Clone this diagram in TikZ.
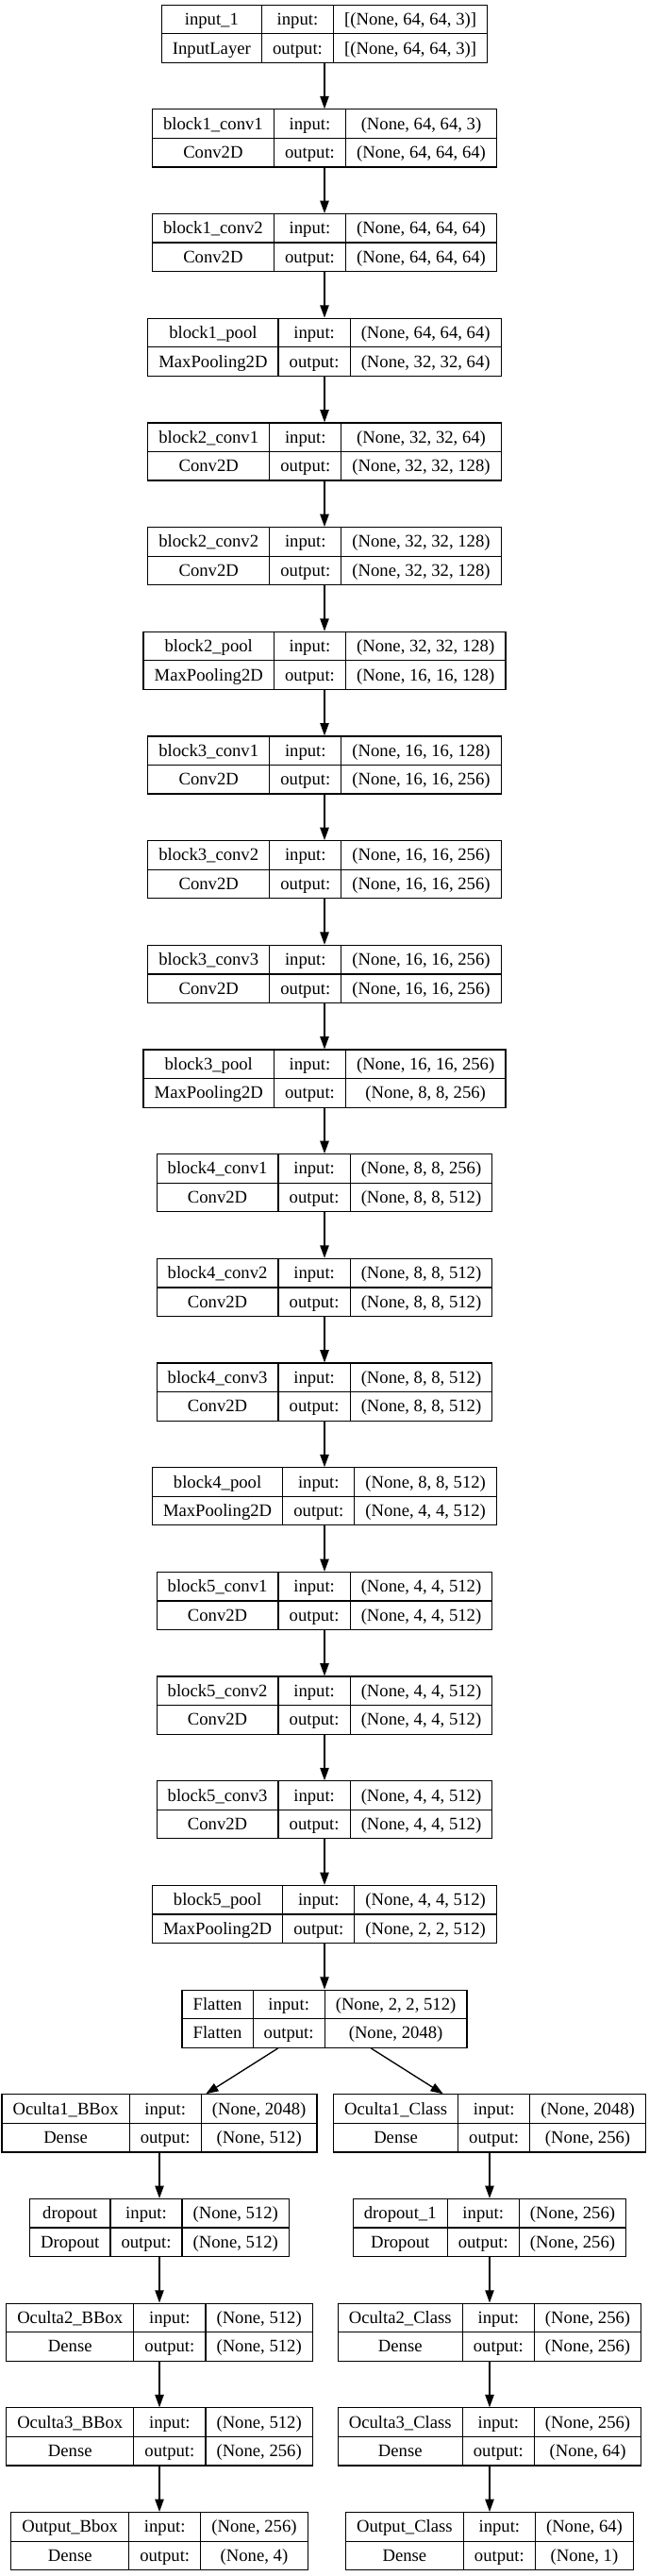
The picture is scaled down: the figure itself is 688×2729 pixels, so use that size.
\documentclass[tikz,border=0pt]{standalone}
\usepackage{fontspec}
\setmainfont{Liberation Serif}
\usepackage{tikz}
\usetikzlibrary{arrows.meta}
\usepackage{array}

\setlength{\arrayrulewidth}{0.9pt}
\setlength{\tabcolsep}{8.25pt}
\newcommand{\rowstrut}{\rule[-6.5pt]{0pt}{22pt}}
\newcommand{\layerbox}[4]{%
\begin{tabular}{|c|c|c|}\hline
\rowstrut #1 & input: & #3\\\hline
\rowstrut #2 & output: & #4\\\hline
\end{tabular}}

\begin{document}
\begin{tikzpicture}[x=0.75pt,y=-0.75pt,>={Triangle[length=10pt,width=7pt]},line width=1pt,
  lay/.style={inner sep=0pt,outer sep=0pt,font=\fontsize{14pt}{16pt}\selectfont}]
\useasboundingbox (0,0) rectangle (688,2729);
% main column
\node[lay] (inp) at (344,35.8) {\layerbox{input\_1}{InputLayer}{[(None, 64, 64, 3)]}{[(None, 64, 64, 3)]}};
\node[lay] (b1c1) at (344,146.4) {\layerbox{block1\_conv1}{Conv2D}{(None, 64, 64, 3)}{(None, 64, 64, 64)}};
\node[lay] (b1c2) at (344,257.1) {\layerbox{block1\_conv2}{Conv2D}{(None, 64, 64, 64)}{(None, 64, 64, 64)}};
\node[lay] (b1p) at (344,367.8) {\layerbox{block1\_pool}{MaxPooling2D}{(None, 64, 64, 64)}{(None, 32, 32, 64)}};
\node[lay] (b2c1) at (344,478.5) {\layerbox{block2\_conv1}{Conv2D}{(None, 32, 32, 64)}{(None, 32, 32, 128)}};
\node[lay] (b2c2) at (344,589.2) {\layerbox{block2\_conv2}{Conv2D}{(None, 32, 32, 128)}{(None, 32, 32, 128)}};
\node[lay] (b2p) at (344,699.8) {\layerbox{block2\_pool}{MaxPooling2D}{(None, 32, 32, 128)}{(None, 16, 16, 128)}};
\node[lay] (b3c1) at (344,810.5) {\layerbox{block3\_conv1}{Conv2D}{(None, 16, 16, 128)}{(None, 16, 16, 256)}};
\node[lay] (b3c2) at (344,921.2) {\layerbox{block3\_conv2}{Conv2D}{(None, 16, 16, 256)}{(None, 16, 16, 256)}};
\node[lay] (b3c3) at (344,1031.9) {\layerbox{block3\_conv3}{Conv2D}{(None, 16, 16, 256)}{(None, 16, 16, 256)}};
\node[lay] (b3p) at (344,1142.6) {\layerbox{block3\_pool}{MaxPooling2D}{(None, 16, 16, 256)}{(None, 8, 8, 256)}};
\node[lay] (b4c1) at (344,1253.2) {\layerbox{block4\_conv1}{Conv2D}{(None, 8, 8, 256)}{(None, 8, 8, 512)}};
\node[lay] (b4c2) at (344,1363.9) {\layerbox{block4\_conv2}{Conv2D}{(None, 8, 8, 512)}{(None, 8, 8, 512)}};
\node[lay] (b4c3) at (344,1474.6) {\layerbox{block4\_conv3}{Conv2D}{(None, 8, 8, 512)}{(None, 8, 8, 512)}};
\node[lay] (b4p) at (344,1585.3) {\layerbox{block4\_pool}{MaxPooling2D}{(None, 8, 8, 512)}{(None, 4, 4, 512)}};
\node[lay] (b5c1) at (344,1696.0) {\layerbox{block5\_conv1}{Conv2D}{(None, 4, 4, 512)}{(None, 4, 4, 512)}};
\node[lay] (b5c2) at (344,1806.6) {\layerbox{block5\_conv2}{Conv2D}{(None, 4, 4, 512)}{(None, 4, 4, 512)}};
\node[lay] (b5c3) at (344,1917.3) {\layerbox{block5\_conv3}{Conv2D}{(None, 4, 4, 512)}{(None, 4, 4, 512)}};
\node[lay] (b5p) at (344,2028.0) {\layerbox{block5\_pool}{MaxPooling2D}{(None, 4, 4, 512)}{(None, 2, 2, 512)}};
\node[lay] (flat) at (344,2138.7) {\layerbox{Flatten}{Flatten}{(None, 2, 2, 512)}{(None, 2048)}};
% bbox head
\node[lay] (o1b) at (169,2249.4) {\layerbox{Oculta1\_BBox}{Dense}{(None, 2048)}{(None, 512)}};
\node[lay] (dob) at (169,2360.0) {\layerbox{dropout}{Dropout}{(None, 512)}{(None, 512)}};
\node[lay] (o2b) at (169,2470.7) {\layerbox{Oculta2\_BBox}{Dense}{(None, 512)}{(None, 512)}};
\node[lay] (o3b) at (169,2581.4) {\layerbox{Oculta3\_BBox}{Dense}{(None, 512)}{(None, 256)}};
\node[lay] (outb) at (169,2692.1) {\layerbox{Output\_Bbox}{Dense}{(None, 256)}{(None, 4)}};
% class head
\node[lay] (o1c) at (519,2249.4) {\layerbox{Oculta1\_Class}{Dense}{(None, 2048)}{(None, 256)}};
\node[lay] (doc) at (519,2360.0) {\layerbox{dropout\_1}{Dropout}{(None, 256)}{(None, 256)}};
\node[lay] (o2c) at (519,2470.7) {\layerbox{Oculta2\_Class}{Dense}{(None, 256)}{(None, 256)}};
\node[lay] (o3c) at (519,2581.4) {\layerbox{Oculta3\_Class}{Dense}{(None, 256)}{(None, 64)}};
\node[lay] (outc) at (519,2692.1) {\layerbox{Output\_Class}{Dense}{(None, 64)}{(None, 1)}};
% arrows
\draw[->] (inp) -- (b1c1);
\draw[->] (b1c1) -- (b1c2);
\draw[->] (b1c2) -- (b1p);
\draw[->] (b1p) -- (b2c1);
\draw[->] (b2c1) -- (b2c2);
\draw[->] (b2c2) -- (b2p);
\draw[->] (b2p) -- (b3c1);
\draw[->] (b3c1) -- (b3c2);
\draw[->] (b3c2) -- (b3c3);
\draw[->] (b3c3) -- (b3p);
\draw[->] (b3p) -- (b4c1);
\draw[->] (b4c1) -- (b4c2);
\draw[->] (b4c2) -- (b4c3);
\draw[->] (b4c3) -- (b4p);
\draw[->] (b4p) -- (b5c1);
\draw[->] (b5c1) -- (b5c2);
\draw[->] (b5c2) -- (b5c3);
\draw[->] (b5c3) -- (b5p);
\draw[->] (b5p) -- (flat);
\draw[->] (flat) -- (o1b);
\draw[->] (flat) -- (o1c);
\draw[->] (o1b) -- (dob);
\draw[->] (dob) -- (o2b);
\draw[->] (o2b) -- (o3b);
\draw[->] (o3b) -- (outb);
\draw[->] (o1c) -- (doc);
\draw[->] (doc) -- (o2c);
\draw[->] (o2c) -- (o3c);
\draw[->] (o3c) -- (outc);
\end{tikzpicture}
\end{document}
